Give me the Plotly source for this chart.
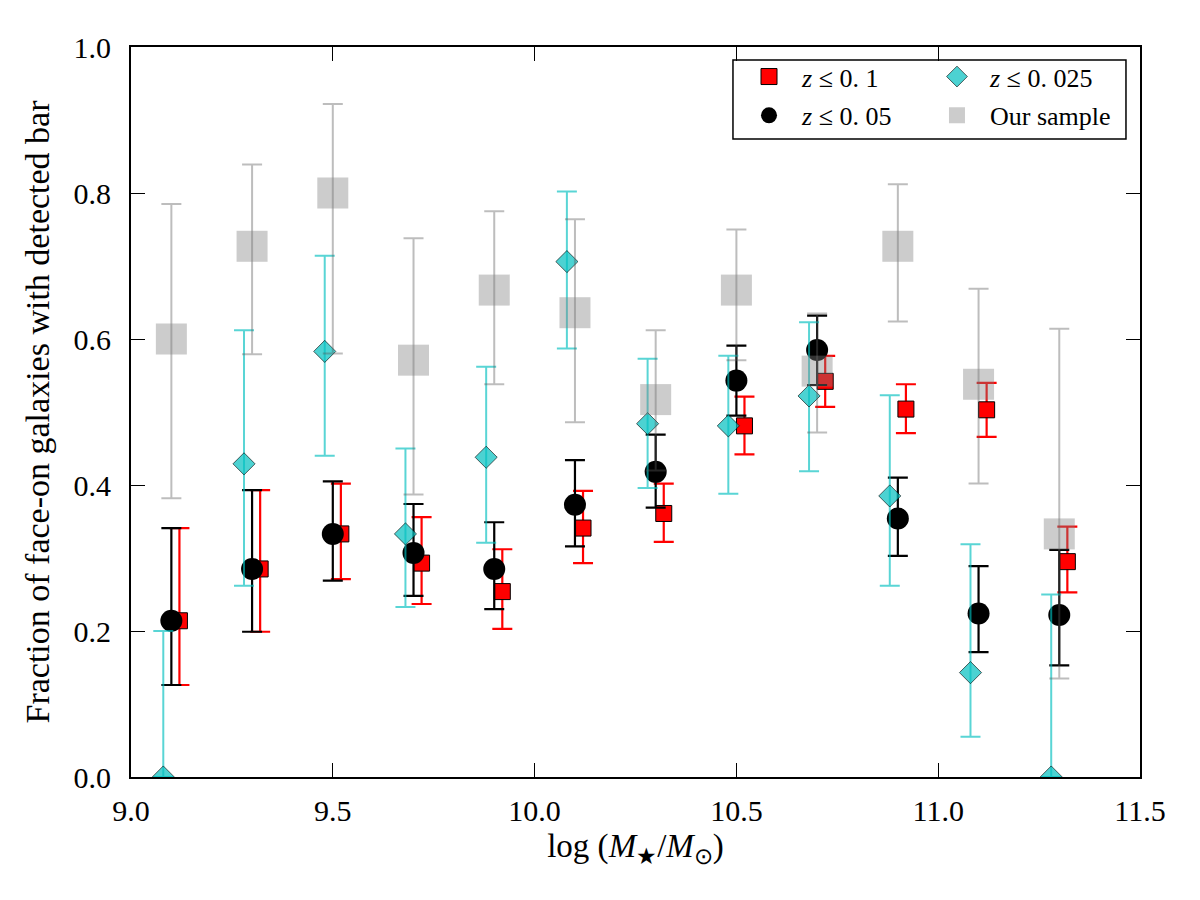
import plotly.graph_objects as go

# ---------------- data ----------------
# z <= 0.1 (red squares)
x_z01 = [9.12, 9.32, 9.52, 9.72, 9.92, 10.12, 10.32, 10.52, 10.72, 10.92, 11.12, 11.32]
f_z01 = [0.214, 0.285, 0.333, 0.293, 0.254, 0.341, 0.361, 0.481, 0.542, 0.504, 0.503, 0.295]
hi_z01 = [0.341, 0.393, 0.402, 0.356, 0.312, 0.392, 0.402, 0.521, 0.577, 0.538, 0.540, 0.343]
lo_z01 = [0.126, 0.199, 0.271, 0.237, 0.203, 0.293, 0.322, 0.442, 0.507, 0.471, 0.466, 0.253]

# z <= 0.05 (black circles)
x_z005 = [9.1, 9.3, 9.5, 9.7, 9.9, 10.1, 10.3, 10.5, 10.7, 10.9, 11.1, 11.3]
f_z005 = [0.214, 0.285, 0.333, 0.307, 0.285, 0.373, 0.418, 0.543, 0.585, 0.354, 0.224, 0.222]
hi_z005 = [0.341, 0.393, 0.405, 0.374, 0.349, 0.434, 0.469, 0.591, 0.632, 0.410, 0.289, 0.311]
lo_z005 = [0.126, 0.199, 0.269, 0.248, 0.230, 0.316, 0.369, 0.495, 0.537, 0.303, 0.171, 0.153]

# z <= 0.025 (cyan diamonds)
x_z0025 = [9.08, 9.28, 9.48, 9.68, 9.88, 10.08, 10.28, 10.48, 10.68, 10.88, 11.08, 11.28]
f_z0025 = [0.0, 0.429, 0.583, 0.333, 0.438, 0.706, 0.484, 0.481, 0.522, 0.385, 0.143, 0.0]
hi_z0025 = [0.200, 0.612, 0.714, 0.450, 0.562, 0.802, 0.573, 0.577, 0.623, 0.523, 0.319, 0.250]
lo_z0025 = [0.0, 0.262, 0.440, 0.233, 0.321, 0.587, 0.396, 0.388, 0.419, 0.262, 0.055, 0.0]

# Our sample (grey squares)
x_ours = [9.1, 9.3, 9.5, 9.7, 9.9, 10.1, 10.3, 10.5, 10.7, 10.9, 11.1, 11.3]
f_ours = [0.600, 0.727, 0.800, 0.571, 0.667, 0.636, 0.517, 0.667, 0.556, 0.727, 0.538, 0.333]
hi_ours = [0.785, 0.839, 0.922, 0.738, 0.775, 0.764, 0.612, 0.750, 0.635, 0.812, 0.669, 0.614]
lo_ours = [0.382, 0.579, 0.580, 0.387, 0.538, 0.486, 0.420, 0.571, 0.472, 0.624, 0.402, 0.135]

x_ticks = [9.0, 9.5, 10.0, 10.5, 11.0, 11.5]
y_ticks = [0.0, 0.2, 0.4, 0.6, 0.8, 1.0]

FONT = "Liberation Serif"
NB = "\u00a0\u00a0"


def err(f, hi, lo):
    plus = [h - v for h, v in zip(hi, f)]
    minus = [v - l for v, l in zip(f, lo)]
    return plus, minus


fig = go.Figure()

p, m = err(f_z01, hi_z01, lo_z01)
fig.add_trace(go.Scatter(
    x=x_z01, y=f_z01, mode="markers", name=NB + "<i>z</i> ≤ 0. 1",
    marker=dict(symbol="square", size=16, color="#ff0000", line=dict(color="black", width=1)),
    error_y=dict(type="data", array=p, arrayminus=m, color="#ff0000", thickness=2.2, width=10),
    legend="legend", legendgroup="a", legendrank=1,
))

p, m = err(f_z005, hi_z005, lo_z005)
fig.add_trace(go.Scatter(
    x=x_z005, y=f_z005, mode="markers", name=NB + "<i>z</i> ≤ 0. 05",
    marker=dict(symbol="circle", size=22, color="black", line=dict(color="black", width=0)),
    error_y=dict(type="data", array=p, arrayminus=m, color="black", thickness=2.2, width=10),
    legend="legend", legendgroup="b", legendrank=2,
))

p, m = err(f_z0025, hi_z0025, lo_z0025)
fig.add_trace(go.Scatter(
    x=x_z0025, y=f_z0025, mode="markers", name=NB + "<i>z</i> ≤ 0. 025",
    marker=dict(symbol="diamond", size=17, color="rgba(0,191,191,0.7)",
                line=dict(color="rgba(0,0,0,0.6)", width=1)),
    error_y=dict(type="data", array=p, arrayminus=m, color="rgba(0,191,191,0.65)", thickness=2, width=10),
    legend="legend2", legendgroup="c", legendrank=3,
))

p, m = err(f_ours, hi_ours, lo_ours)
fig.add_trace(go.Scatter(
    x=x_ours, y=f_ours, mode="markers", name=NB + "Our sample",
    marker=dict(symbol="square", size=31, color="rgba(128,128,128,0.4)", line=dict(width=0)),
    error_y=dict(type="data", array=p, arrayminus=m, color="rgba(90,90,90,0.4)", thickness=2, width=10),
    legend="legend2", legendgroup="d", legendrank=4,
))

axis_common = dict(
    showline=True, linewidth=2, linecolor="black", mirror="ticks",
    ticks="inside", ticklen=14, tickwidth=1.2, tickcolor="black",
    showgrid=False, zeroline=False,
    tickfont=dict(family=FONT, size=30, color="black"),
    tickformat=".1f",
)

fig.update_layout(
    width=1200, height=900,
    margin=dict(l=131, r=60, t=47, b=123),
    paper_bgcolor="white", plot_bgcolor="white",
    font=dict(family=FONT, color="black"),
    xaxis=dict(
        range=[9.0, 11.5], tickvals=x_ticks, ticklabelstandoff=6,
        title=dict(text="log (<i>M</i><sub>★</sub>/<i>M</i><sub>⊙</sub>)",
                   font=dict(family=FONT, size=33), standoff=8),
        **axis_common,
    ),
    yaxis=dict(
        range=[0.0, 1.0], tickvals=y_ticks, ticklabelstandoff=12,
        title=dict(text="Fraction of face-on galaxies with detected bar",
                   font=dict(family=FONT, size=34), standoff=14),
        **axis_common,
    ),
    legend=dict(
        x=0.6125, y=0.9916, xanchor="left", yanchor="top",
        bgcolor="rgba(0,0,0,0)", borderwidth=0, tracegroupgap=2,
        font=dict(family=FONT, size=26), itemsizing="trace",
    ),
    legend2=dict(
        x=0.7988, y=0.9916, xanchor="left", yanchor="top",
        bgcolor="rgba(0,0,0,0)", borderwidth=0, tracegroupgap=2,
        font=dict(family=FONT, size=26), itemsizing="trace",
    ),
    shapes=[dict(
        type="rect", xref="paper", yref="paper",
        x0=0.5966, x1=0.9861, y0=0.874, y1=0.9822,
        line=dict(color="black", width=1.5), fillcolor="rgba(0,0,0,0)", layer="above",
    )],
)

fig.write_html("out.html")
